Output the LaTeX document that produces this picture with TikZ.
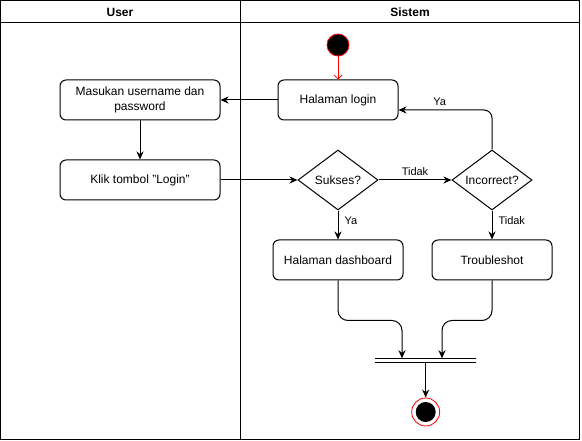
\documentclass[tikz,border=0pt]{standalone}
\usepackage{fontspec}
\setmainfont{Liberation Sans}
\usetikzlibrary{arrows.meta,shapes.geometric}
\tikzset{every path/.style={line width=1pt}}
\tikzset{
  act/.style={draw,rounded corners=6pt,minimum width=160pt,minimum height=40pt,
    align=center,inner sep=2pt,font=\fontsize{12}{15}\selectfont},
  dec/.style={draw,diamond,aspect=1.333,inner sep=0pt,minimum width=80pt,
    minimum height=60pt,font=\fontsize{12}{15}\selectfont},
  lbl/.style={font=\fontsize{11}{13}\selectfont,inner sep=1pt},
  head/.style={font=\bfseries\fontsize{12}{15}\selectfont},
  arr/.style={-{Stealth[length=8pt,width=7pt,inset=2.5pt]}},
  startnode/.style={circle,draw=red,fill=black,line width=0.8pt,minimum size=22pt,inner sep=0pt},
  endnode/.style={circle,draw=red,fill=white,line width=0.8pt,minimum size=28pt,inner sep=0pt}
}

\begin{document}
\begin{tikzpicture}[x=1pt,y=-1pt]
\useasboundingbox (0,0) rectangle (582,441);
% lanes
\draw (0.5,0.5) rectangle (579.5,439.5);
\draw (0.5,23) -- (579.5,23);
\draw (240.5,0.5) -- (240.5,439.5);
\node[head] (laneuser) at (120,12.5) {User};
\node[head] (lanesistem) at (410,12.5) {Sistem};

\node[startnode] (mulai) at (338,45) {};
\node[act] (masuk) at (140,100) {Masukan username dan\\password};
\node[act] (klik) at (140,180) {Klik tombol "Login"};
\node[act,minimum width=120pt] (login) at (338,100) {Halaman login};
\node[dec] (sukses) at (338,180) {Sukses?};
\node[dec] (incor) at (492,180) {Incorrect?};
\node[act,minimum width=130pt] (dash) at (338,260) {Halaman dashboard};
\node[act,minimum width=120pt] (trouble) at (492,260) {Troubleshot};

% join bar
\coordinate (joinA) at (402,358.3);
\coordinate (joinB) at (442,358.3);
\coordinate (barbawah) at (425.7,362.3);
\draw (375,358.3) -- (475.5,358.3);
\draw (375,362.3) -- (475.5,362.3);
\node[endnode] (selesai) at (425.7,412) {};
\fill[black] (selesai) circle (10pt);

% flows
\draw[red,line width=0.8pt,-{Straight Barb[length=4pt,width=8pt]}] (mulai) -- (login);
\draw[arr] (login) -- (masuk);
\draw[arr] (masuk) -- (klik);
\draw[arr] (klik) -- (sukses);
\draw[arr] (sukses) -- node[lbl,above=3pt] {Tidak} (incor);
\draw[arr,rounded corners=8pt] (incor.north) |- node[lbl,pos=0.78,above=3pt] {Ya} ([yshift=-10pt]login.east);
\draw[arr] (sukses) -- node[lbl,pos=0.35,right=5pt] {Ya} (dash);
\draw[arr] (incor) -- node[lbl,pos=0.35,right=5pt] {Tidak} (trouble);
\draw[arr,rounded corners=10pt] (dash.south) -- ++(0,40) -| (joinA);
\draw[arr,rounded corners=10pt] (trouble.south) -- ++(0,40) -| (joinB);
\draw[arr] (barbawah) -- (selesai);
\end{tikzpicture}
\end{document}
